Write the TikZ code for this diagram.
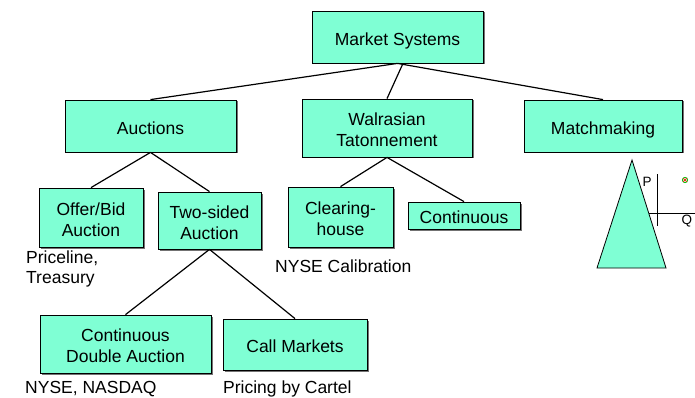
\documentclass[tikz,border=0pt]{standalone}
\usepackage{fontspec}
\setmainfont{Liberation Sans}
\usetikzlibrary{shadows}
\definecolor{aqua}{RGB}{127,255,212}
\newcommand{\bxt}[1]{\raisebox{-4pt}[\height][\depth]{\begin{tabular}{@{}c@{}}#1\end{tabular}}}
\tikzset{
  box/.style={draw=black, line width=0.8pt, fill=aqua, align=center, inner sep=0pt,
    font=\fontsize{17.5}{21}\selectfont,
    drop shadow={shadow xshift=1.5pt, shadow yshift=-1.5pt, fill=black!55, opacity=1}},
  conn/.style={draw=black, line width=1.2pt},
  note/.style={anchor=base west, inner sep=0pt, align=left, font=\fontsize{17.5}{20}\selectfont},
  small/.style={anchor=base west, inner sep=0pt, font=\fontsize{13.5}{16}\selectfont}
}
\begin{document}
\begin{tikzpicture}[x=1pt,y=-1pt]
\useasboundingbox (0,0) rectangle (695,398);
% nodes
\node[box, minimum width=171pt, minimum height=52pt] (ms) at (397.5,37) {\bxt{Market Systems}};
\node[box, minimum width=171pt, minimum height=52pt] (auc) at (150.5,126) {\bxt{Auctions}};
\node[box, minimum width=170pt, minimum height=58pt] (wal) at (387,128) {\bxt{Walrasian\\Tatonnement}};
\node[box, minimum width=158pt, minimum height=52pt] (mat) at (603,126) {\bxt{Matchmaking}};
\node[box, minimum width=104pt, minimum height=59pt] (ob) at (91,217.5) {\bxt{Offer/Bid\\Auction}};
\node[box, minimum width=103pt, minimum height=57pt] (ts) at (209.5,220.5) {\bxt{Two-sided\\Auction}};
\node[box, minimum width=105pt, minimum height=60pt] (ch) at (340.5,217) {\bxt{Clearing-\\house}};
\node[box, minimum width=112pt, minimum height=27pt] (con) at (464,215.5) {\bxt{Continuous}};
\node[box, minimum width=171pt, minimum height=58pt] (cda) at (125.5,344) {\bxt{Continuous\\Double Auction}};
\node[box, minimum width=144pt, minimum height=51pt] (cm) at (295,344.5) {\bxt{Call Markets}};
% connectors
\draw[conn] (ms.south) -- (auc.north);
\draw[conn] ([xshift=5.5pt]ms.south) -- (wal.north);
\draw[conn] (ms.south) -- (mat.north);
\draw[conn] (auc.south) -- (ob.north);
\draw[conn] (auc.south) -- (ts.north);
\draw[conn] (wal.south) -- (ch.north);
\draw[conn] (wal.south) -- (con.north);
\draw[conn] (ts.south) -- (cda.north);
\draw[conn] (ts.south) -- (cm.north);
% notes
\node[note] (n1) at (26,263) {Priceline,};
\node[note] (n2) at (26,283) {Treasury};
\node[note] (n3) at (275,272) {NYSE Calibration};
\node[note] (n4) at (25,393) {NYSE, NASDAQ};
\node[note] (n5) at (223,393) {Pricing by Cartel};
% supply/demand sketch
\coordinate (apex) at (632,160);
\coordinate (bl) at (597,268);
\coordinate (br) at (666,268);
\draw[line width=0.8pt, fill=aqua] (apex) -- (bl) -- (br) -- cycle;
\coordinate (vt) at (657,174);
\coordinate (vb) at (657,226);
\coordinate (hl) at (649,213);
\coordinate (hr) at (695,213);
\draw[line width=0.8pt] (vt) -- (vb);
\draw[line width=0.8pt] (hl) -- (hr);
\node[small] (p) at (642.5,186) {P};
\node[small] (q) at (681.5,224) {Q};
\node[circle, draw=green!70!black, fill=green!25, line width=0.6pt, minimum size=5.5pt, inner sep=0pt] (icon) at (685,180) {};
\draw[red, line width=0.6pt] ([shift={(-1.8pt,-1.8pt)}]icon.center) -- ([shift={(1.8pt,1.8pt)}]icon.center);
\draw[red, line width=0.6pt] ([shift={(-1.8pt,1.8pt)}]icon.center) -- ([shift={(1.8pt,-1.8pt)}]icon.center);
\end{tikzpicture}
\end{document}
